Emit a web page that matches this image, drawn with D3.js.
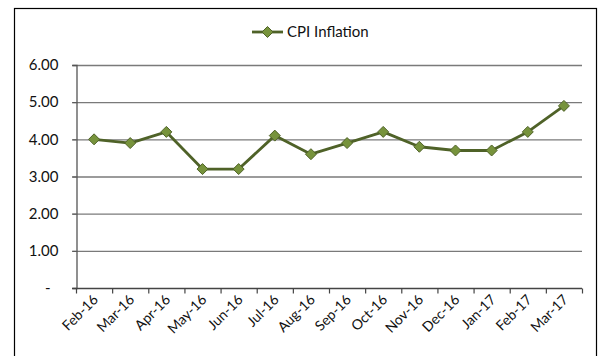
<!DOCTYPE html>
<html><head><meta charset="utf-8">
<script src="https://cdn.jsdelivr.net/npm/d3@7"></script>
<style>html,body{margin:0;padding:0;background:#fff}svg{display:block}</style>
</head><body>
<svg id="c" width="602" height="356"></svg>
<script>
const categories = ["Feb-16","Mar-16","Apr-16","May-16","Jun-16","Jul-16","Aug-16","Sep-16","Oct-16","Nov-16","Dec-16","Jan-17","Feb-17","Mar-17"];
const cpiInflation = [4.0,3.9,4.2,3.2,3.2,4.1,3.6,3.9,4.2,3.8,3.7,3.7,4.2,4.9];
const yTicks = [0,1,2,3,4,5,6];
const seriesName = "CPI Inflation";

const font = "Lato, 'Open Sans', sans-serif";
const svg = d3.select("#c");
const m = {left:76, right:582, top:65, bottom:288};

svg.append("rect").attr("x",14.5).attr("y",8.5).attr("width",582).attr("height",360)
  .attr("fill","#fff").attr("stroke","#000").attr("stroke-width",1.2);

const x = d3.scaleBand().domain(categories).range([m.left,m.right]);
const y = d3.scaleLinear().domain([0,6]).range([m.bottom,m.top]);

// gridlines
svg.append("g").selectAll("line").data(yTicks.filter(d=>d>0)).join("line")
  .attr("x1",m.left-4).attr("x2",m.right).attr("y1",d=>y(d)+0.5).attr("y2",d=>y(d)+0.5)
  .attr("stroke","#7a7a7a").attr("stroke-width",1.3);

// y axis
const ya = svg.append("g").attr("transform",`translate(${m.left+0.5},0)`)
  .call(d3.axisLeft(y).tickValues(yTicks).tickSize(4).tickPadding(14)
    .tickFormat(d=>d===0?"-":d3.format(".2f")(d)));
ya.select(".domain").attr("stroke","#555").attr("stroke-width",1.3);
ya.selectAll(".tick line").attr("stroke","#555");
ya.selectAll("text").attr("font-family",font).attr("font-size",15).attr("fill","#111");
ya.selectAll(".tick").filter(d=>d===0).select("text").attr("x",-26);

// x axis
const xa = svg.append("g").attr("transform",`translate(0,${m.bottom+0.5})`)
  .call(d3.axisBottom(x).tickSize(0).tickFormat(""));
xa.select(".domain").attr("stroke","#444").attr("stroke-width",1.3).attr("d",`M${m.left-4},0H${m.right}`);
const edges = categories.map(c=>x(c)).concat([m.right]);
xa.selectAll(".edge").data(edges).join("line").attr("class","edge")
  .attr("x1",d=>d+0.5).attr("x2",d=>d+0.5).attr("y1",0).attr("y2",5)
  .attr("stroke","#444").attr("stroke-width",1.2);
xa.selectAll(".lbl").data(categories).join("text").attr("class","lbl")
  .attr("transform",d=>`translate(${x(d)+x.bandwidth()/2+5},${12}) rotate(-45)`)
  .attr("text-anchor","end").attr("font-family",font).attr("font-size",14).attr("fill","#111")
  .text(d=>d);

// line
const cx = d=>x(d)+x.bandwidth()/2;
const line = d3.line().x((d,i)=>cx(categories[i])).y(d=>y(d));
svg.append("path").datum(cpiInflation).attr("d",line).attr("fill","none")
  .attr("stroke","#4f6228").attr("stroke-width",2.8).attr("stroke-linejoin","round");
const r = 5.5;
const diamond = `M0,${-r}L${r},0L0,${r}L${-r},0Z`;
svg.append("g").selectAll("path").data(cpiInflation).join("path")
  .attr("d",diamond).attr("transform",(d,i)=>`translate(${cx(categories[i])},${y(d)})`)
  .attr("fill","#77933c").attr("stroke","#4f6228").attr("stroke-width",1);

// legend
const lg = svg.append("g").attr("transform","translate(252,32)");
lg.append("line").attr("x1",0).attr("x2",31).attr("y1",0).attr("y2",0).attr("stroke","#4f6228").attr("stroke-width",2.8);
lg.append("path").attr("d",diamond).attr("transform","translate(15.5,0)").attr("fill","#77933c").attr("stroke","#4f6228");
lg.append("text").attr("x",35).attr("y",5).attr("font-family",font).attr("font-size",15).attr("fill","#111").text(seriesName);
</script>
</body></html>
